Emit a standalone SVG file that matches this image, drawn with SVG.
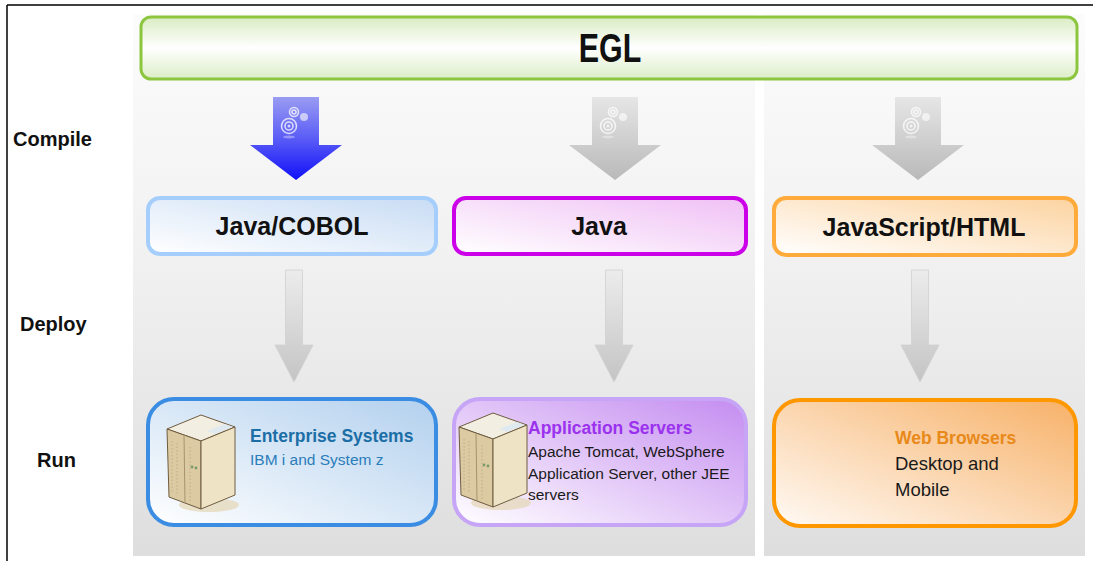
<svg xmlns="http://www.w3.org/2000/svg" xmlns:xlink="http://www.w3.org/1999/xlink" width="1093" height="561" viewBox="0 0 1093 561">
  <style>
    .row { font-family: "Liberation Sans", Arial, sans-serif; font-weight: bold; font-size: 20px; fill: #111; }
    .mid { font-family: "Liberation Sans", Arial, sans-serif; font-weight: bold; font-size: 25px; fill: #111; text-anchor: middle; }
    .head { font-family: "Liberation Sans", Arial, sans-serif; font-weight: bold; font-size: 17.5px; }
    .body { font-family: "Liberation Sans", Arial, sans-serif; font-size: 15.5px; }
    .dark { fill: #1a1a1a; }
    .big { font-size: 18.5px; }
    .gear { fill: none; stroke: #ffffff; stroke-opacity: 0.75; stroke-width: 1.6; }
  </style>
  <defs>
    <!-- column backgrounds -->
    <linearGradient id="panelGrad" x1="0" y1="0" x2="0" y2="1">
      <stop offset="0" stop-color="#fcfcfc"/>
      <stop offset="0.45" stop-color="#f1f1f1"/>
      <stop offset="1" stop-color="#dedede"/>
    </linearGradient>
    <linearGradient id="eglGrad" x1="0" y1="0" x2="0" y2="1">
      <stop offset="0" stop-color="#d9ecc2"/>
      <stop offset="0.5" stop-color="#ffffff"/>
      <stop offset="1" stop-color="#dcedc6"/>
    </linearGradient>
    <!-- arrows -->
    <linearGradient id="blueArrow" x1="0" y1="0" x2="0" y2="1">
      <stop offset="0" stop-color="#9a9cf2"/>
      <stop offset="0.5" stop-color="#5a5cf6"/>
      <stop offset="1" stop-color="#1010f8"/>
    </linearGradient>
    <linearGradient id="grayArrow" x1="0" y1="0" x2="0" y2="1">
      <stop offset="0" stop-color="#e6e6e6"/>
      <stop offset="1" stop-color="#b9b9b9"/>
    </linearGradient>
    <linearGradient id="deployArrow" x1="0" y1="0" x2="0" y2="1">
      <stop offset="0" stop-color="#ececec"/>
      <stop offset="1" stop-color="#c4c4c4"/>
    </linearGradient>
    <!-- box fills, colour in the upper right fading to white -->
    <linearGradient id="fillCobol" x1="0" y1="1" x2="1" y2="0">
      <stop offset="0" stop-color="#ffffff"/>
      <stop offset="1" stop-color="#c8dcf4"/>
    </linearGradient>
    <linearGradient id="fillJava" x1="0" y1="1" x2="1" y2="0">
      <stop offset="0" stop-color="#ffffff"/>
      <stop offset="1" stop-color="#f0c0f5"/>
    </linearGradient>
    <linearGradient id="fillJs" x1="0" y1="1" x2="1" y2="0">
      <stop offset="0" stop-color="#ffffff"/>
      <stop offset="1" stop-color="#fcd3a0"/>
    </linearGradient>
    <linearGradient id="fillEnt" x1="0" y1="1" x2="1" y2="0">
      <stop offset="0" stop-color="#ffffff"/>
      <stop offset="1" stop-color="#b2d0ee"/>
    </linearGradient>
    <linearGradient id="fillApp" x1="0" y1="1" x2="1" y2="0">
      <stop offset="0" stop-color="#ffffff"/>
      <stop offset="1" stop-color="#c48cf0"/>
    </linearGradient>
    <linearGradient id="fillWeb" x1="0" y1="1" x2="1" y2="0">
      <stop offset="0" stop-color="#fffaf5"/>
      <stop offset="1" stop-color="#f7b168"/>
    </linearGradient>

    <!-- compile arrow outline, centred on x = 0 -->
    <path id="compileShape" d="M-23,97 H23 V145 H46 L0,180 L-46,145 H-23 Z"/>
    <!-- deploy arrow outline, centred on x = 0 -->
    <path id="deployShape" d="M-8.5,270 H8.5 V345 H19 L0,382 L-19,345 H-8.5 Z"/>

    <!-- gear glyph drawn on the compile arrows -->
    <g id="gears">
      <circle class="gear" cx="-2" cy="112" r="4.5"/>
      <circle class="gear" cx="-2" cy="112" r="2"/>
      <circle cx="8" cy="117" r="4" fill="#ffffff" fill-opacity="0.6"/>
      <circle class="gear" cx="-7" cy="126" r="7.5"/>
      <circle class="gear" cx="-7" cy="126" r="4"/>
      <circle cx="-7" cy="126" r="1.5" fill="#ffffff" fill-opacity="0.7"/>
      <ellipse cx="-7" cy="137" rx="6" ry="1.5" fill="#ffffff" fill-opacity="0.35"/>
    </g>

    <!-- beige tower server -->
    <g id="server">
      <ellipse cx="44" cy="94" rx="30" ry="7" fill="#e4d6b4" opacity="0.7"/>
      <polygon points="2,18 36,4 70,16 36,30" fill="#f3eee2" stroke="#6e5c40" stroke-width="1"/>
      <polygon points="42,20 60,13 68,16 50,23" fill="#dde8f2" opacity="0.9"/>
      <polygon points="2,18 36,30 36,98 4,86" fill="#dccaa2" stroke="#6e5c40" stroke-width="1"/>
      <polygon points="36,30 70,16 70,84 36,98" fill="#efe3c6" stroke="#6e5c40" stroke-width="1"/>
      <line x1="19" y1="24" x2="20" y2="92" stroke="#a8946c" stroke-width="1"/>
      <line x1="7" y1="30" x2="7" y2="82" stroke="#b9a67e" stroke-width="0.8" stroke-dasharray="1.5 2"/>
      <line x1="12" y1="32" x2="12" y2="84" stroke="#b9a67e" stroke-width="0.8" stroke-dasharray="1.5 2"/>
      <line x1="25" y1="36" x2="25" y2="90" stroke="#b9a67e" stroke-width="0.8" stroke-dasharray="1.5 2"/>
      <circle cx="27" cy="56" r="1.4" fill="#7a9a6a"/>
      <circle cx="31" cy="57" r="1.4" fill="#7a9a6a"/>
    </g>
  </defs>

  <!-- outer frame -->
  <g id="frame" fill="none" stroke="#000" stroke-width="1.5">
    <line x1="7" y1="5" x2="1093" y2="5"/>
    <line x1="7" y1="5" x2="7" y2="561"/>
  </g>

  <!-- column backgrounds -->
  <g id="panels">
    <rect x="133" y="14" width="622" height="542" fill="url(#panelGrad)"/>
    <rect x="764" y="14" width="321" height="542" fill="url(#panelGrad)"/>
  </g>

  <!-- row labels -->
  <g id="row-labels">
    <text class="row" x="13" y="146">Compile</text>
    <text class="row" x="20" y="331">Deploy</text>
    <text class="row" x="37" y="467">Run</text>
  </g>

  <!-- EGL source bar -->
  <g id="node-egl">
    <rect x="141" y="17" width="936" height="62" rx="10" fill="url(#eglGrad)" stroke="#8cc63f" stroke-width="3"/>
    <text transform="translate(610,62) scale(0.76,1)" text-anchor="middle" font-family="Liberation Sans, Arial, sans-serif" font-weight="bold" font-size="40" fill="#111">EGL</text>
  </g>

  <!-- compile and deploy arrows -->
  <g id="connectors">
    <g transform="translate(296,0)">
      <use xlink:href="#compileShape" fill="url(#blueArrow)"/>
      <use xlink:href="#gears"/>
    </g>
    <g transform="translate(615,0)">
      <use xlink:href="#compileShape" fill="url(#grayArrow)"/>
      <use xlink:href="#gears"/>
    </g>
    <g transform="translate(918,0)">
      <use xlink:href="#compileShape" fill="url(#grayArrow)"/>
      <use xlink:href="#gears"/>
    </g>
    <use xlink:href="#deployShape" transform="translate(294,0)" fill="url(#deployArrow)" stroke="#d0d0d0" stroke-width="0.8"/>
    <use xlink:href="#deployShape" transform="translate(614,0)" fill="url(#deployArrow)" stroke="#d0d0d0" stroke-width="0.8"/>
    <use xlink:href="#deployShape" transform="translate(920,0)" fill="url(#deployArrow)" stroke="#d0d0d0" stroke-width="0.8"/>
  </g>

  <!-- compile targets -->
  <g id="node-java-cobol">
    <rect x="148" y="198" width="288" height="56" rx="12" fill="url(#fillCobol)" stroke="#a6cefc" stroke-width="4"/>
    <text class="mid" x="292" y="235">Java/COBOL</text>
  </g>
  <g id="node-java">
    <rect x="454" y="198" width="292" height="56" rx="12" fill="url(#fillJava)" stroke="#cc00e8" stroke-width="4"/>
    <text class="mid" x="599" y="235">Java</text>
  </g>
  <g id="node-javascript">
    <rect x="774" y="198" width="302" height="57" rx="12" fill="url(#fillJs)" stroke="#ffab3c" stroke-width="4"/>
    <text class="mid" x="924" y="236">JavaScript/HTML</text>
  </g>

  <!-- runtime platforms -->
  <g id="node-enterprise">
    <rect x="148" y="399" width="288" height="126" rx="26" fill="url(#fillEnt)" stroke="#3a8de2" stroke-width="4"/>
    <use xlink:href="#server" transform="translate(165,411)"/>
    <text class="head" x="250" y="442" fill="#1c6ea6">Enterprise Systems</text>
    <text class="body" x="250" y="465" fill="#2a7dbb">IBM i and System  z</text>
  </g>
  <g id="node-appservers">
    <rect x="454" y="399" width="292" height="126" rx="26" fill="url(#fillApp)" stroke="#c7a5f6" stroke-width="4"/>
    <use xlink:href="#server" transform="translate(457,409)"/>
    <text class="head" x="528" y="434" fill="#9a32ee">Application Servers</text>
    <text class="body dark" x="528" y="457">Apache Tomcat, WebSphere</text>
    <text class="body dark" x="528" y="479">Application Server, other JEE</text>
    <text class="body dark" x="528" y="500">servers</text>
  </g>
  <g id="node-browsers">
    <rect x="774" y="400" width="302" height="126" rx="26" fill="url(#fillWeb)" stroke="#ff9800" stroke-width="4"/>
    <text class="head" x="895" y="444" fill="#e8891a">Web Browsers</text>
    <text class="body dark big" x="895" y="470">Desktop and</text>
    <text class="body dark big" x="895" y="496">Mobile</text>
  </g>
</svg>
